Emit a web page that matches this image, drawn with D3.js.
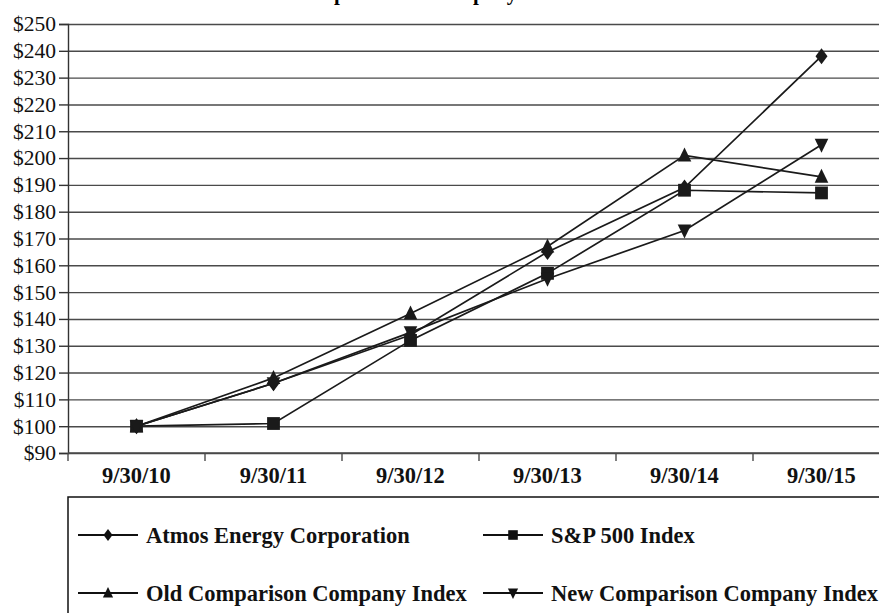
<!DOCTYPE html>
<html>
<head>
<meta charset="utf-8">
<script src="https://cdn.jsdelivr.net/npm/d3@7"></script>
<style>
  body { margin: 0; background: #fff; overflow: hidden; }
  text { font-family: "Liberation Serif", "Times New Roman", serif; }
</style>
</head>
<body>
<div id="chart"></div>
<script>
// categories and series
const dates = ["9/30/10", "9/30/11", "9/30/12", "9/30/13", "9/30/14", "9/30/15"];
const atmos = [100, 116, 134, 165, 189, 238];
const sp500 = [100, 101, 132, 157, 188, 187];
const oldComp = [100, 118, 142, 167, 201, 193];
const newComp = [100, 116, 135, 155, 173, 205];
const yTicks = [90, 100, 110, 120, 130, 140, 150, 160, 170, 180, 190, 200, 210, 220, 230, 240, 250];
const seriesNames = ["Atmos Energy Corporation", "S&P 500 Index", "Old Comparison Company Index", "New Comparison Company Index"];
const seriesSymbols = ["diamond", "square", "up", "down"];

const width = 879, height = 613;
const plot = {left: 68, top: 24, right: 890, bottom: 453};

const svg = d3.select("#chart")
  .append("svg")
    .attr("width", width)
    .attr("height", height);

const x = d3.scaleBand()
  .domain(dates)
  .range([plot.left, plot.right]);

const y = d3.scaleLinear()
  .domain([90, 250])
  .range([plot.bottom, plot.top]);

// title, mostly cut off at the top edge as in the source
svg.append("text")
  .attr("x", 465)
  .attr("y", 0)
  .attr("text-anchor", "middle")
  .style("font-size", "21px")
  .style("font-weight", "bold")
  .text("Comparison of Company Performance");

// gridlines
svg.append("g")
  .attr("transform", `translate(${plot.left},0)`)
  .call(d3.axisLeft(y).tickValues(yTicks).tickSize(-(width - plot.left)).tickFormat(""))
  .call(g => g.select(".domain").remove())
  .call(g => g.selectAll("line").attr("stroke", "#4a4a4a").attr("stroke-width", 1.4));

// y axis
svg.append("g")
  .attr("transform", `translate(${plot.left},0)`)
  .call(d3.axisLeft(y).tickValues(yTicks).tickSize(9).tickPadding(3).tickFormat(d => "$" + d))
  .call(g => g.select(".domain").attr("stroke", "#333").attr("stroke-width", 1.4))
  .call(g => g.selectAll("line").attr("stroke", "#333").attr("stroke-width", 1.4))
  .call(g => g.selectAll("text")
    .style("font-size", "21.5px")
    .attr("fill", "#111"));

// x axis: ticks between categories
const xAxis = svg.append("g")
  .attr("transform", `translate(0,${plot.bottom})`);
xAxis.append("line")
  .attr("x1", plot.left).attr("x2", width)
  .attr("stroke", "#4a4a4a").attr("stroke-width", 1.4);
xAxis.selectAll(".sep")
  .data(dates)
  .join("line")
    .attr("x1", d => x(d)).attr("x2", d => x(d))
    .attr("y1", 0).attr("y2", 8)
    .attr("stroke", "#4a4a4a").attr("stroke-width", 1.4);
xAxis.selectAll(".lab")
  .data(dates)
  .join("text")
    .attr("x", d => x(d) + x.bandwidth() / 2)
    .attr("y", 30)
    .attr("text-anchor", "middle")
    .style("font-size", "22.5px")
    .style("font-weight", "bold")
    .attr("fill", "#111")
    .text(d => d);

// symbols
function symbolPath(kind, s) {
  if (kind === "diamond") return `M0,${-s}L${s * 0.75},0L0,${s}L${-s * 0.75},0Z`;
  if (kind === "square") return `M${-s * 0.8},${-s * 0.8}H${s * 0.8}V${s * 0.8}H${-s * 0.8}Z`;
  if (kind === "up") return `M0,${-s}L${s * 0.85},${s * 0.75}H${-s * 0.85}Z`;
  return `M0,${s}L${s * 0.85},${-s * 0.75}H${-s * 0.85}Z`;
}

const allSeries = [atmos, sp500, oldComp, newComp];
const line = d3.line()
  .x((d, i) => x(dates[i]) + x.bandwidth() / 2)
  .y(d => y(d));

allSeries.forEach(vals => {
  svg.append("path")
    .datum(vals)
    .attr("fill", "none")
    .attr("stroke", "#1a1a1a")
    .attr("stroke-width", 1.7)
    .attr("d", line);
});

allSeries.forEach((vals, k) => {
  svg.append("g")
    .selectAll("path")
    .data(vals)
    .join("path")
      .attr("transform", (d, i) => `translate(${x(dates[i]) + x.bandwidth() / 2},${y(d)})`)
      .attr("d", symbolPath(seriesSymbols[k], 8))
      .attr("fill", "#1a1a1a");
});

// legend
const legend = svg.append("g");
legend.append("path")
  .attr("d", `M68,${height + 5}V497H${width + 5}`)
  .attr("fill", "none")
  .attr("stroke", "#111")
  .attr("stroke-width", 1.5);

const legendPos = [[78, 535], [483, 535], [78, 593], [483, 593]];
seriesNames.forEach((name, k) => {
  const [lx, ly] = legendPos[k];
  const g = legend.append("g").attr("transform", `translate(${lx},${ly})`);
  g.append("line")
    .attr("x1", 0).attr("x2", 60)
    .attr("stroke", "#111").attr("stroke-width", 1.8);
  g.append("path")
    .attr("transform", "translate(30,0)")
    .attr("d", symbolPath(seriesSymbols[k], 6))
    .attr("fill", "#111");
  g.append("text")
    .attr("x", 68)
    .attr("y", 8)
    .style("font-size", "22.5px")
    .style("font-weight", "bold")
    .attr("fill", "#111")
    .text(name);
});
</script>
</body>
</html>
